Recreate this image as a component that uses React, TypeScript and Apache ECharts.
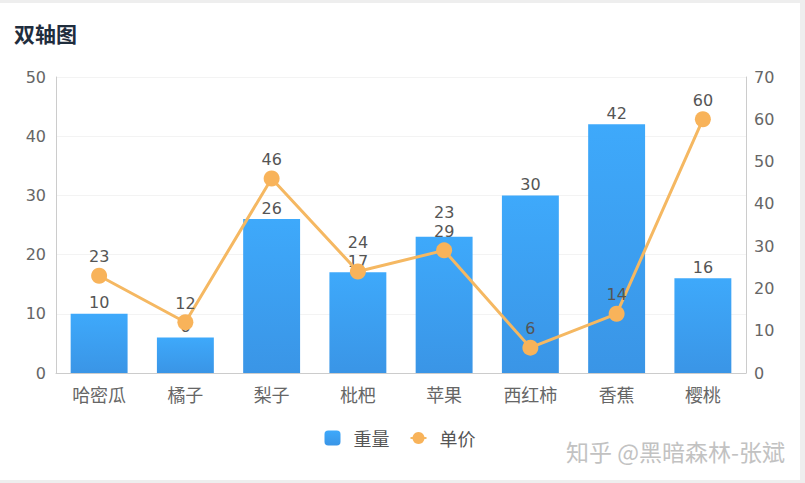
import React, { useEffect, useRef } from 'react';
import * as echarts from 'echarts';

const categories = ['哈密瓜', '橘子', '梨子', '枇杷', '苹果', '西红柿', '香蕉', '樱桃'];
const weights = [10, 6, 26, 17, 23, 30, 42, 16];
const prices = [23, 12, 46, 24, 29, 6, 14, 60];

const FONT = '"DejaVu Sans", "Noto Sans CJK SC", sans-serif';
const CJK = '"Noto Sans CJK SC", sans-serif';

const LABEL_SIZE = 16;
const LABEL_GAP = 3;
const SYMBOL = 16;

const App: React.FC = () => {
  const chartRef = useRef<HTMLDivElement>(null);

  useEffect(() => {
    document.body.style.margin = '0';
    if (!chartRef.current) return;
    const chart = echarts.init(chartRef.current, null, { renderer: 'svg' });

    // centre y of the default label of the other series at the same category
    const otherLabelY = (seriesIndex: number, i: number): number | null => {
      try {
        if (seriesIndex === 0) {
          const y = chart.convertToPixel({ yAxisIndex: 1 }, prices[i]) as number;
          return y - SYMBOL / 2 - LABEL_GAP - LABEL_SIZE * 0.6;
        }
        const y = chart.convertToPixel({ yAxisIndex: 0 }, weights[i]) as number;
        return y - LABEL_GAP - LABEL_SIZE * 0.6;
      } catch (e) {
        return null;
      }
    };

    // push the upper of two clashing labels further up, as the original does
    const pushUp = (params: any) => {
      const r = params.labelRect;
      const mine = r.y + r.height / 2;
      const other = otherLabelY(params.seriesIndex, params.dataIndex);
      if (other == null) return {};
      const need = r.height + 1;
      if (mine <= other && other - mine < need) {
        return { dy: -(need - (other - mine)) };
      }
      return {};
    };

    const option = {
      animation: false,
      textStyle: { fontFamily: FONT },
      title: {
        text: '双轴图',
        left: 9,
        top: 14,
        textStyle: { fontSize: 21, fontWeight: 'bold', color: '#1f2d3d', fontFamily: CJK }
      },
      legend: {
        bottom: 28,
        left: 'center',
        itemWidth: 16,
        itemHeight: 15,
        itemGap: 20,
        textStyle: { fontSize: 18, color: '#555', fontFamily: CJK, padding: [0, 0, 0, 8] },
        data: ['重量', '单价']
      },
      grid: { left: 56, right: 54, top: 74, bottom: 107 },
      xAxis: {
        type: 'category',
        data: categories,
        axisLine: { lineStyle: { color: '#ccc' } },
        axisTick: { lineStyle: { color: '#ccc' } },
        axisLabel: { color: '#666', fontSize: 18, margin: 12, fontFamily: CJK }
      },
      yAxis: [
        {
          type: 'value',
          min: 0,
          max: 50,
          interval: 10,
          axisLine: { show: true, lineStyle: { color: '#ccc' } },
          axisLabel: { color: '#666', fontSize: 16, margin: 10 },
          splitLine: { lineStyle: { color: '#f3f3f3' } }
        },
        {
          type: 'value',
          min: 0,
          max: 70,
          interval: 10,
          axisLine: { show: true, lineStyle: { color: '#ccc' } },
          axisLabel: { color: '#666', fontSize: 16, margin: 8 },
          splitLine: { show: false }
        }
      ],
      series: [
        {
          name: '重量',
          type: 'bar',
          barWidth: '66%',
          data: weights,
          itemStyle: {
            color: new echarts.graphic.LinearGradient(0, 0, 0, 1, [
              { offset: 0, color: '#3ea9fb' },
              { offset: 1, color: '#3a95e6' }
            ])
          },
          label: { show: true, position: 'top', color: '#555', fontSize: LABEL_SIZE, distance: LABEL_GAP },
          labelLayout: pushUp
        },
        {
          name: '单价',
          type: 'line',
          yAxisIndex: 1,
          data: prices,
          symbol: 'circle',
          symbolSize: SYMBOL,
          lineStyle: { color: '#f5b862', width: 3 },
          itemStyle: { color: '#f8b35a' },
          label: { show: true, position: 'top', color: '#555', fontSize: LABEL_SIZE, distance: LABEL_GAP },
          labelLayout: pushUp
        }
      ],
      graphic: [
        {
          type: 'text',
          right: 15,
          bottom: 18,
          style: {
            text: '知乎 @黑暗森林-张斌',
            fill: '#c2c2c2',
            fontSize: 23,
            fontFamily: CJK
          }
        }
      ]
    };

    chart.setOption(option);
    return () => {
      chart.dispose();
    };
  }, []);

  return (
    <div
      style={{
        position: 'absolute',
        left: 0,
        top: 0,
        width: 805,
        height: 483,
        boxSizing: 'border-box',
        borderTop: '3px solid #eeeeee',
        borderRight: '5px solid #eeeeee',
        borderBottom: '3px solid #eeeeee',
        background: '#fff'
      }}
    >
      <div ref={chartRef} style={{ width: 800, height: 477 }} />
    </div>
  );
};

export default App;
